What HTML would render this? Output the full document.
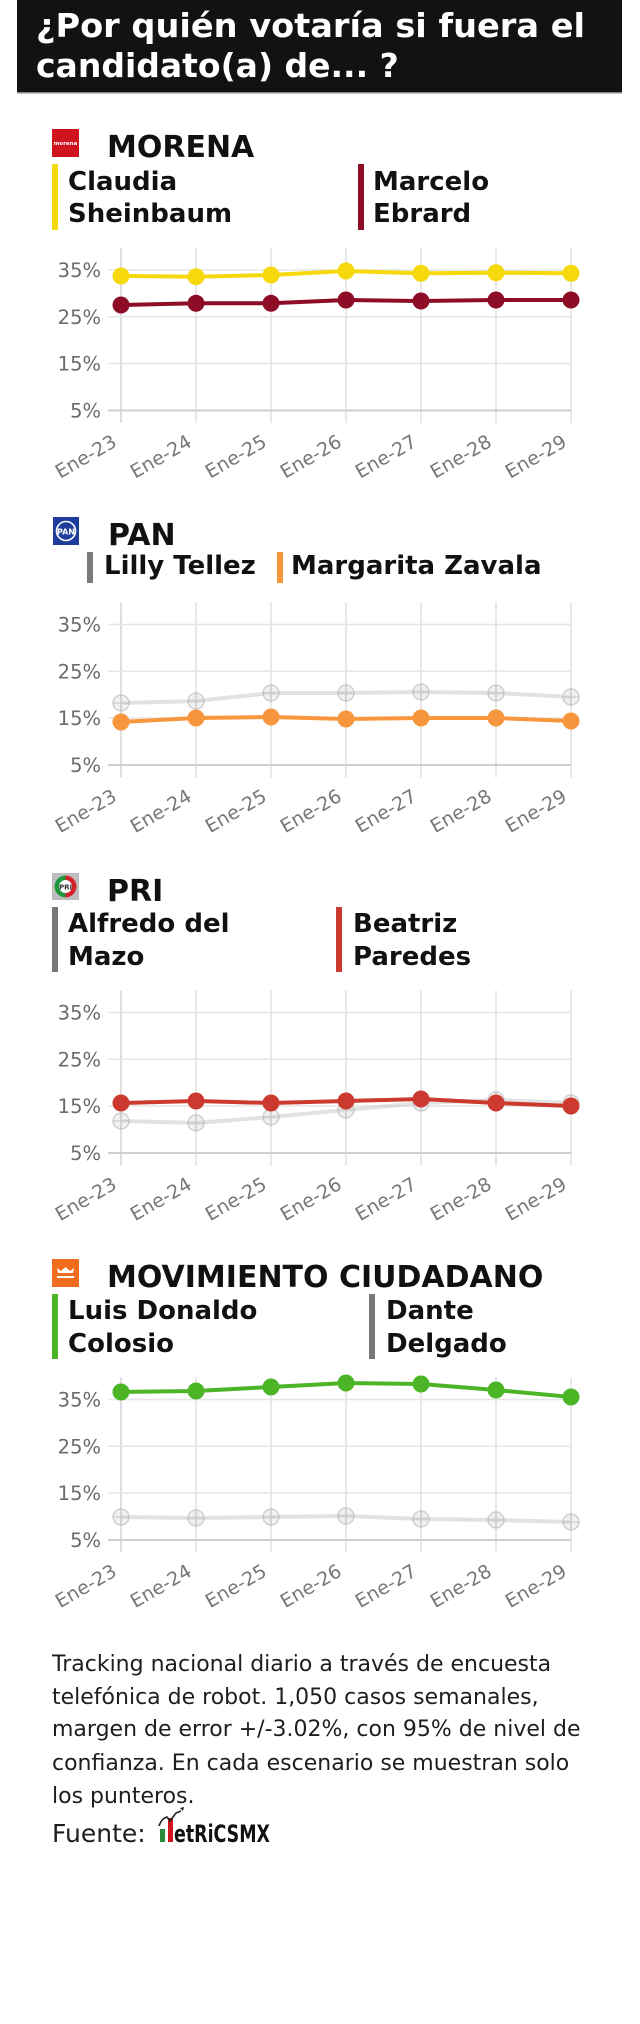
<!DOCTYPE html>
<html>
<head>
<meta charset="utf-8">
<style>
html,body{margin:0;padding:0;background:#fff;}
body{width:640px;height:2024px;overflow:hidden;}
svg{display:block;}
text{font-family:"DejaVu Sans","Liberation Sans",sans-serif;}
.ttl{font-weight:bold;font-size:33px;fill:#fff;}
.hd{font-weight:bold;font-size:30px;fill:#111;}
.lg{font-weight:bold;font-size:26px;fill:#111;}
.yt{font-size:19.5px;fill:#6b6b6b;text-anchor:end;}
.xt{font-size:19px;fill:#777;text-anchor:end;}
.ft{font-size:22px;fill:#1e1e1e;}
.hg{stroke:#e6e6e6;stroke-width:1.5;}
.ax{stroke:#cfcfcf;stroke-width:2;}
.vg{stroke:#e0e0e0;stroke-width:1.5;}
.gl{fill:none;stroke:#cfcfcf;stroke-opacity:.6;stroke-width:4;stroke-linejoin:round;}
.gm circle{fill:#e4e4e4;fill-opacity:.55;stroke:#b5b5b5;stroke-opacity:.6;stroke-width:1.5;}
.gm path{stroke:#b5b5b5;stroke-opacity:.6;stroke-width:1.2;}
</style>
</head>
<body>
<svg width="640" height="2024" viewBox="0 0 640 2024" xmlns="http://www.w3.org/2000/svg">
<!-- Title -->
<rect x="17" y="0" width="605" height="93" fill="#121212"/>
<rect x="17" y="92" width="605" height="1.5" fill="#888"/>
<text class="ttl" x="36" y="37" textLength="549" lengthAdjust="spacingAndGlyphs">¿Por quién votaría si fuera el</text>
<text class="ttl" x="36" y="77">candidato(a) de... ?</text>

<!-- ============ MORENA ============ -->
<rect x="52" y="129" width="27" height="28" fill="#cf1420"/>
<text x="65.5" y="145" font-size="5.5" fill="#fff" text-anchor="middle" font-weight="bold">morena</text>
<text class="hd" x="107" y="157">MORENA</text>
<rect x="52" y="164" width="6" height="66" fill="#f5d90c"/>
<text class="lg" x="68" y="190">Claudia</text>
<text class="lg" x="68" y="222">Sheinbaum</text>
<rect x="358" y="164" width="6" height="66" fill="#8c0d25"/>
<text class="lg" x="373" y="190">Marcelo</text>
<text class="lg" x="373" y="222">Ebrard</text>

<!-- grid chart 1 -->
<g>
<line class="vg" x1="121" y1="248" x2="121" y2="423" style="stroke:#d4d4d4"/>
<line class="vg" x1="196" y1="248" x2="196" y2="423"/>
<line class="vg" x1="271" y1="248" x2="271" y2="423"/>
<line class="vg" x1="346" y1="248" x2="346" y2="423"/>
<line class="vg" x1="421" y1="248" x2="421" y2="423"/>
<line class="vg" x1="496" y1="248" x2="496" y2="423"/>
<line class="vg" x1="571" y1="248" x2="571" y2="423"/>
<line class="hg" x1="108" y1="270" x2="571" y2="270"/>
<line class="hg" x1="108" y1="316.8" x2="571" y2="316.8"/>
<line class="hg" x1="108" y1="363.5" x2="571" y2="363.5"/>
<line class="ax" x1="108" y1="410.5" x2="571" y2="410.5"/>
<text class="yt" x="101" y="277">35%</text>
<text class="yt" x="101" y="323.8">25%</text>
<text class="yt" x="101" y="370.5">15%</text>
<text class="yt" x="101" y="417.5">5%</text>
<text class="xt" transform="translate(118,445.5) rotate(-30)">Ene-23</text>
<text class="xt" transform="translate(193,445.5) rotate(-30)">Ene-24</text>
<text class="xt" transform="translate(268,445.5) rotate(-30)">Ene-25</text>
<text class="xt" transform="translate(343,445.5) rotate(-30)">Ene-26</text>
<text class="xt" transform="translate(418,445.5) rotate(-30)">Ene-27</text>
<text class="xt" transform="translate(493,445.5) rotate(-30)">Ene-28</text>
<text class="xt" transform="translate(568,445.5) rotate(-30)">Ene-29</text>
</g>
<!-- Claudia -->
<polyline fill="none" stroke="#f5d90c" stroke-width="4" stroke-linejoin="round" points="121,276 196,276.7 271,275 346,271 421,273.3 496,272.7 571,273.3"/>
<g fill="#f5d90c">
<circle cx="121" cy="276" r="8.5"/><circle cx="196" cy="276.7" r="8.5"/><circle cx="271" cy="275" r="8.5"/><circle cx="346" cy="271" r="8.5"/><circle cx="421" cy="273.3" r="8.5"/><circle cx="496" cy="272.7" r="8.5"/><circle cx="571" cy="273.3" r="8.5"/>
</g>
<!-- Marcelo -->
<polyline fill="none" stroke="#8c0d25" stroke-width="4" stroke-linejoin="round" points="121,305 196,303.3 271,303.3 346,300 421,301 496,300 571,300"/>
<g fill="#8c0d25">
<circle cx="121" cy="305" r="8.5"/><circle cx="196" cy="303.3" r="8.5"/><circle cx="271" cy="303.3" r="8.5"/><circle cx="346" cy="300" r="8.5"/><circle cx="421" cy="301" r="8.5"/><circle cx="496" cy="300" r="8.5"/><circle cx="571" cy="300" r="8.5"/>
</g>

<!-- ============ PAN ============ -->
<rect x="53" y="517" width="26" height="28" fill="#1d3d9c"/>
<circle cx="66" cy="531" r="9.5" fill="none" stroke="#fff" stroke-width="1.6"/>
<text x="66" y="534.5" font-size="8" fill="#fff" text-anchor="middle" font-weight="bold">PAN</text>
<text class="hd" x="108" y="545">PAN</text>
<rect x="87" y="552" width="6" height="31" fill="#7a7a7a"/>
<text class="lg" x="104" y="574">Lilly Tellez</text>
<rect x="277" y="552" width="6" height="31" fill="#f7963c"/>
<text class="lg" x="291" y="574">Margarita Zavala</text>

<g transform="translate(0,354.5)">
<line class="vg" x1="121" y1="248" x2="121" y2="423" style="stroke:#d4d4d4"/>
<line class="vg" x1="196" y1="248" x2="196" y2="423"/>
<line class="vg" x1="271" y1="248" x2="271" y2="423"/>
<line class="vg" x1="346" y1="248" x2="346" y2="423"/>
<line class="vg" x1="421" y1="248" x2="421" y2="423"/>
<line class="vg" x1="496" y1="248" x2="496" y2="423"/>
<line class="vg" x1="571" y1="248" x2="571" y2="423"/>
<line class="hg" x1="108" y1="270" x2="571" y2="270"/>
<line class="hg" x1="108" y1="316.8" x2="571" y2="316.8"/>
<line class="hg" x1="108" y1="363.5" x2="571" y2="363.5"/>
<line class="ax" x1="108" y1="410.5" x2="571" y2="410.5"/>
<text class="yt" x="101" y="277">35%</text>
<text class="yt" x="101" y="323.8">25%</text>
<text class="yt" x="101" y="370.5">15%</text>
<text class="yt" x="101" y="417.5">5%</text>
<text class="xt" transform="translate(118,445.5) rotate(-30)">Ene-23</text>
<text class="xt" transform="translate(193,445.5) rotate(-30)">Ene-24</text>
<text class="xt" transform="translate(268,445.5) rotate(-30)">Ene-25</text>
<text class="xt" transform="translate(343,445.5) rotate(-30)">Ene-26</text>
<text class="xt" transform="translate(418,445.5) rotate(-30)">Ene-27</text>
<text class="xt" transform="translate(493,445.5) rotate(-30)">Ene-28</text>
<text class="xt" transform="translate(568,445.5) rotate(-30)">Ene-29</text>
</g>
<!-- Lilly (gray) -->
<polyline class="gl" points="121,703 196,701 271,693 346,693 421,692 496,693 571,697"/>
<g class="gm">
<circle cx="121" cy="703" r="8"/><path d="M113 703h16M121 695v16"/>
<circle cx="196" cy="701" r="8"/><path d="M188 701h16M196 693v16"/>
<circle cx="271" cy="693" r="8"/><path d="M263 693h16M271 685v16"/>
<circle cx="346" cy="693" r="8"/><path d="M338 693h16M346 685v16"/>
<circle cx="421" cy="692" r="8"/><path d="M413 692h16M421 684v16"/>
<circle cx="496" cy="693" r="8"/><path d="M488 693h16M496 685v16"/>
<circle cx="571" cy="697" r="8"/><path d="M563 697h16M571 689v16"/>
</g>
<!-- Margarita -->
<polyline fill="none" stroke="#f7963c" stroke-width="4" stroke-linejoin="round" points="121,722 196,718 271,717 346,719 421,718 496,718 571,721"/>
<g fill="#f7963c">
<circle cx="121" cy="722" r="8.5"/><circle cx="196" cy="718" r="8.5"/><circle cx="271" cy="717" r="8.5"/><circle cx="346" cy="719" r="8.5"/><circle cx="421" cy="718" r="8.5"/><circle cx="496" cy="718" r="8.5"/><circle cx="571" cy="721" r="8.5"/>
</g>

<!-- ============ PRI ============ -->
<rect x="52" y="873" width="27" height="27" fill="#bdbdbd"/>
<circle cx="65.5" cy="886.5" r="11" fill="#fff"/>
<path d="M65.5 875.5 A11 11 0 0 0 65.5 897.5 L65.5 893 A6.5 6.5 0 0 1 65.5 880 Z" fill="#1e9a3c"/>
<path d="M65.5 875.5 A11 11 0 0 1 65.5 897.5 L65.5 893 A6.5 6.5 0 0 0 65.5 880 Z" fill="#d2232a"/>
<text x="65.5" y="889.5" font-size="7" fill="#333" text-anchor="middle" font-weight="bold">PRI</text>
<text class="hd" x="107" y="901">PRI</text>
<rect x="52" y="907" width="6" height="65" fill="#777"/>
<text class="lg" x="68" y="932">Alfredo del</text>
<text class="lg" x="68" y="965">Mazo</text>
<rect x="336" y="907" width="6" height="65" fill="#cc3a2f"/>
<text class="lg" x="353" y="932">Beatriz</text>
<text class="lg" x="353" y="965">Paredes</text>

<g transform="translate(0,742.5)">
<line class="vg" x1="121" y1="248" x2="121" y2="423" style="stroke:#d4d4d4"/>
<line class="vg" x1="196" y1="248" x2="196" y2="423"/>
<line class="vg" x1="271" y1="248" x2="271" y2="423"/>
<line class="vg" x1="346" y1="248" x2="346" y2="423"/>
<line class="vg" x1="421" y1="248" x2="421" y2="423"/>
<line class="vg" x1="496" y1="248" x2="496" y2="423"/>
<line class="vg" x1="571" y1="248" x2="571" y2="423"/>
<line class="hg" x1="108" y1="270" x2="571" y2="270"/>
<line class="hg" x1="108" y1="316.8" x2="571" y2="316.8"/>
<line class="hg" x1="108" y1="363.5" x2="571" y2="363.5"/>
<line class="ax" x1="108" y1="410.5" x2="571" y2="410.5"/>
<text class="yt" x="101" y="277">35%</text>
<text class="yt" x="101" y="323.8">25%</text>
<text class="yt" x="101" y="370.5">15%</text>
<text class="yt" x="101" y="417.5">5%</text>
<text class="xt" transform="translate(118,445.5) rotate(-30)">Ene-23</text>
<text class="xt" transform="translate(193,445.5) rotate(-30)">Ene-24</text>
<text class="xt" transform="translate(268,445.5) rotate(-30)">Ene-25</text>
<text class="xt" transform="translate(343,445.5) rotate(-30)">Ene-26</text>
<text class="xt" transform="translate(418,445.5) rotate(-30)">Ene-27</text>
<text class="xt" transform="translate(493,445.5) rotate(-30)">Ene-28</text>
<text class="xt" transform="translate(568,445.5) rotate(-30)">Ene-29</text>
</g>
<!-- Alfredo (gray) -->
<polyline class="gl" points="121,1121 196,1123 271,1117 346,1110 421,1103 496,1100 571,1103"/>
<g class="gm">
<circle cx="121" cy="1121" r="8"/><path d="M113 1121h16M121 1113v16"/>
<circle cx="196" cy="1123" r="8"/><path d="M188 1123h16M196 1115v16"/>
<circle cx="271" cy="1117" r="8"/><path d="M263 1117h16M271 1109v16"/>
<circle cx="346" cy="1110" r="8"/><path d="M338 1110h16M346 1102v16"/>
<circle cx="421" cy="1103" r="8"/><path d="M413 1103h16M421 1095v16"/>
<circle cx="496" cy="1100" r="8"/><path d="M488 1100h16M496 1092v16"/>
<circle cx="571" cy="1103" r="8"/><path d="M563 1103h16M571 1095v16"/>
</g>
<!-- Beatriz -->
<polyline fill="none" stroke="#cc3a2f" stroke-width="4" stroke-linejoin="round" points="121,1103 196,1101 271,1103 346,1101 421,1099 496,1103 571,1106"/>
<g fill="#cc3a2f">
<circle cx="121" cy="1103" r="8.5"/><circle cx="196" cy="1101" r="8.5"/><circle cx="271" cy="1103" r="8.5"/><circle cx="346" cy="1101" r="8.5"/><circle cx="421" cy="1099" r="8.5"/><circle cx="496" cy="1103" r="8.5"/><circle cx="571" cy="1106" r="8.5"/>
</g>

<!-- ============ MOVIMIENTO CIUDADANO ============ -->
<rect x="52" y="1259" width="27" height="28" fill="#f26c1f"/>
<path d="M57 1268 l4 3 l4.5 -4 l4.5 4 l4 -3 l-1 5 h-15 z" fill="#fff"/>
<rect x="57" y="1276" width="17" height="2" fill="#fff"/>
<text class="hd" x="107" y="1287">MOVIMIENTO CIUDADANO</text>
<rect x="52" y="1294" width="6" height="65" fill="#4bb526"/>
<text class="lg" x="68" y="1319">Luis Donaldo</text>
<text class="lg" x="68" y="1352">Colosio</text>
<rect x="369" y="1294" width="6" height="65" fill="#777"/>
<text class="lg" x="386" y="1319">Dante</text>
<text class="lg" x="386" y="1352">Delgado</text>

<g transform="translate(0,1129.5)">
<line class="vg" x1="121" y1="248" x2="121" y2="423" style="stroke:#d4d4d4"/>
<line class="vg" x1="196" y1="248" x2="196" y2="423"/>
<line class="vg" x1="271" y1="248" x2="271" y2="423"/>
<line class="vg" x1="346" y1="248" x2="346" y2="423"/>
<line class="vg" x1="421" y1="248" x2="421" y2="423"/>
<line class="vg" x1="496" y1="248" x2="496" y2="423"/>
<line class="vg" x1="571" y1="248" x2="571" y2="423"/>
<line class="hg" x1="108" y1="270" x2="571" y2="270"/>
<line class="hg" x1="108" y1="316.8" x2="571" y2="316.8"/>
<line class="hg" x1="108" y1="363.5" x2="571" y2="363.5"/>
<line class="ax" x1="108" y1="410.5" x2="571" y2="410.5"/>
<text class="yt" x="101" y="277">35%</text>
<text class="yt" x="101" y="323.8">25%</text>
<text class="yt" x="101" y="370.5">15%</text>
<text class="yt" x="101" y="417.5">5%</text>
<text class="xt" transform="translate(118,445.5) rotate(-30)">Ene-23</text>
<text class="xt" transform="translate(193,445.5) rotate(-30)">Ene-24</text>
<text class="xt" transform="translate(268,445.5) rotate(-30)">Ene-25</text>
<text class="xt" transform="translate(343,445.5) rotate(-30)">Ene-26</text>
<text class="xt" transform="translate(418,445.5) rotate(-30)">Ene-27</text>
<text class="xt" transform="translate(493,445.5) rotate(-30)">Ene-28</text>
<text class="xt" transform="translate(568,445.5) rotate(-30)">Ene-29</text>
</g>
<!-- Dante (gray) -->
<polyline class="gl" points="121,1517 196,1518 271,1517 346,1516 421,1519 496,1520 571,1522"/>
<g class="gm">
<circle cx="121" cy="1517" r="8"/><path d="M113 1517h16M121 1509v16"/>
<circle cx="196" cy="1518" r="8"/><path d="M188 1518h16M196 1510v16"/>
<circle cx="271" cy="1517" r="8"/><path d="M263 1517h16M271 1509v16"/>
<circle cx="346" cy="1516" r="8"/><path d="M338 1516h16M346 1508v16"/>
<circle cx="421" cy="1519" r="8"/><path d="M413 1519h16M421 1511v16"/>
<circle cx="496" cy="1520" r="8"/><path d="M488 1520h16M496 1512v16"/>
<circle cx="571" cy="1522" r="8"/><path d="M563 1522h16M571 1514v16"/>
</g>
<!-- Luis Donaldo -->
<polyline fill="none" stroke="#4bb526" stroke-width="4" stroke-linejoin="round" points="121,1392 196,1391 271,1387 346,1383 421,1384 496,1390 571,1397"/>
<g fill="#4bb526">
<circle cx="121" cy="1392" r="8.5"/><circle cx="196" cy="1391" r="8.5"/><circle cx="271" cy="1387" r="8.5"/><circle cx="346" cy="1383" r="8.5"/><circle cx="421" cy="1384" r="8.5"/><circle cx="496" cy="1390" r="8.5"/><circle cx="571" cy="1397" r="8.5"/>
</g>

<!-- ============ Footer ============ -->
<text class="ft" x="52" y="1671">Tracking nacional diario a través de encuesta</text>
<text class="ft" x="52" y="1704">telefónica de robot. 1,050 casos semanales,</text>
<text class="ft" x="52" y="1736">margen de error +/-3.02%, con 95% de nivel de</text>
<text class="ft" x="52" y="1770">confianza. En cada escenario se muestran solo</text>
<text class="ft" x="52" y="1803">los punteros.</text>
<text x="52" y="1842" font-size="25" fill="#1e1e1e">Fuente:</text>
<!-- MetricsMX logo -->
<rect x="160" y="1829" width="5" height="13" fill="#2a8c3a"/>
<rect x="165.5" y="1829" width="2" height="13" fill="#fff"/>
<rect x="168" y="1818" width="5" height="24" fill="#d0141e"/>
<path d="M159 1826 q3 -8 8 -9 l3 4 l6 -8 l5 -2" fill="none" stroke="#222" stroke-width="1.6"/>
<path d="M180 1808 l4 -1 l-1 4 z" fill="#222"/>
<text x="174" y="1842" font-size="24" font-weight="bold" fill="#111" textLength="96" lengthAdjust="spacingAndGlyphs">etRiCSMX</text>
</svg>
</body>
</html>
